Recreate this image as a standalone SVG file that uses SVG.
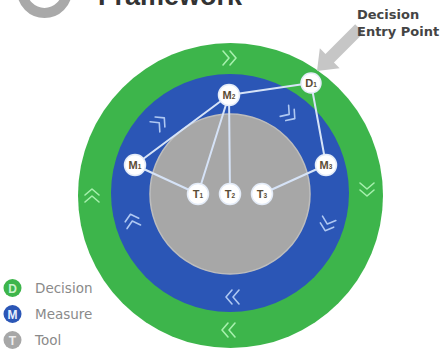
<svg xmlns="http://www.w3.org/2000/svg" width="441" height="356" viewBox="0 0 441 356">
<style>
.node{fill:#ffffff;stroke:#e4ecf8;stroke-width:1.5}
.lbl{font-family:"Liberation Sans",Arial,sans-serif;font-weight:bold;font-size:11px;fill:#5a4d35;text-anchor:middle}
.sub{font-size:6.5px}
.conn{stroke:#d6e3f7;stroke-width:2;fill:none;stroke-linecap:round}
.chg{stroke:#a6f0ad;stroke-width:1.6;fill:none;stroke-linecap:round;stroke-linejoin:round}
.chb{stroke:#afc8f2;stroke-width:1.6;fill:none;stroke-linecap:round;stroke-linejoin:round}
.leg{font-family:"DejaVu Sans",sans-serif;font-size:13.5px;fill:#8a8a8a}
.legl{font-family:"Liberation Sans",Arial,sans-serif;font-weight:bold;font-size:12px;text-anchor:middle}
.callout{font-family:"DejaVu Sans",sans-serif;font-weight:bold;font-size:13px;fill:#444444}
</style>
<defs>
<path id="chev" d="M-7,-7 L-1,0 L-7,7 M0,-7 L6,0 L0,7"/>
</defs>
<rect width="441" height="356" fill="#ffffff"/>

<g id="title">
<circle cx="44.5" cy="-9.5" r="22.5" fill="none" stroke="#a9a9a9" stroke-width="10"/>
<text x="98" y="5" font-family="Liberation Sans, Arial, sans-serif" font-weight="bold" font-size="27" fill="#333333">Framework</text>
</g>

<g id="rings">
<circle cx="230.5" cy="195.5" r="152.5" fill="#3db54b"/>
<circle cx="230" cy="193" r="119" fill="#2b56b6"/>
<circle cx="230" cy="194" r="80" fill="#a7a7a7" stroke="#bdbdbd" stroke-width="1.5"/>
</g>

<g id="chevrons">
<use href="#chev" class="chg" transform="translate(230,58) rotate(0)"/>
<use href="#chev" class="chg" transform="translate(367,190) rotate(90)"/>
<use href="#chev" class="chg" transform="translate(228,330) rotate(180)"/>
<use href="#chev" class="chg" transform="translate(92,195) rotate(270)"/>
<use href="#chev" class="chb" transform="translate(160,122) rotate(-44)"/>
<use href="#chev" class="chb" transform="translate(290,115) rotate(37)"/>
<use href="#chev" class="chb" transform="translate(327,225) rotate(108)"/>
<use href="#chev" class="chb" transform="translate(232,297) rotate(180)"/>
<use href="#chev" class="chb" transform="translate(132,220) rotate(255)"/>
</g>

<g id="connectors">
<line class="conn" x1="135" y1="165" x2="229" y2="95"/>
<line class="conn" x1="229" y1="95" x2="311" y2="83"/>
<line class="conn" x1="311" y1="83" x2="326" y2="165"/>
<line class="conn" x1="229" y1="95" x2="198" y2="194"/>
<line class="conn" x1="229" y1="95" x2="230" y2="194"/>
<line class="conn" x1="135" y1="165" x2="198" y2="194"/>
<line class="conn" x1="326" y1="165" x2="262" y2="194"/>
</g>

<g id="entry-arrow">
<polygon points="0,0 -18,-14 -18,-6 -60,-6 -60,6 -18,6 -18,14" fill="#c6c6c6" transform="translate(317,71) rotate(135)"/>
<text class="callout" x="357" y="19">Decision</text>
<text class="callout" x="357" y="36">Entry Point</text>
</g>

<g id="D1"><circle class="node" cx="311" cy="83" r="10"/><text class="lbl" x="311" y="87">D<tspan class="sub">1</tspan></text></g>
<g id="M2"><circle class="node" cx="229" cy="95" r="10.5"/><text class="lbl" x="229" y="99">M<tspan class="sub">2</tspan></text></g>
<g id="M1"><circle class="node" cx="135" cy="165" r="10.5"/><text class="lbl" x="135" y="169">M<tspan class="sub">1</tspan></text></g>
<g id="M3"><circle class="node" cx="326" cy="165" r="10.5"/><text class="lbl" x="326" y="169">M<tspan class="sub">3</tspan></text></g>
<g id="T1"><circle class="node" cx="198" cy="194" r="10.5"/><text class="lbl" x="198" y="198">T<tspan class="sub">1</tspan></text></g>
<g id="T2"><circle class="node" cx="230" cy="194" r="10.5"/><text class="lbl" x="230" y="198">T<tspan class="sub">2</tspan></text></g>
<g id="T3"><circle class="node" cx="262" cy="194" r="10.5"/><text class="lbl" x="262" y="198">T<tspan class="sub">3</tspan></text></g>

<g id="legend">
<g id="leg-decision"><circle cx="12.5" cy="288" r="9" fill="#3db54b"/><text class="legl" x="12.5" y="292.5" fill="#c9f2cd">D</text><text class="leg" x="35" y="293">Decision</text></g>
<g id="leg-measure"><circle cx="12.5" cy="314" r="9" fill="#2b56b6"/><text class="legl" x="12.5" y="318.5" fill="#e6eeff">M</text><text class="leg" x="35" y="319">Measure</text></g>
<g id="leg-tool"><circle cx="12.5" cy="340" r="9" fill="#a7a7a7"/><text class="legl" x="12.5" y="344.5" fill="#eeeeee">T</text><text class="leg" x="35" y="345">Tool</text></g>
</g>
</svg>
